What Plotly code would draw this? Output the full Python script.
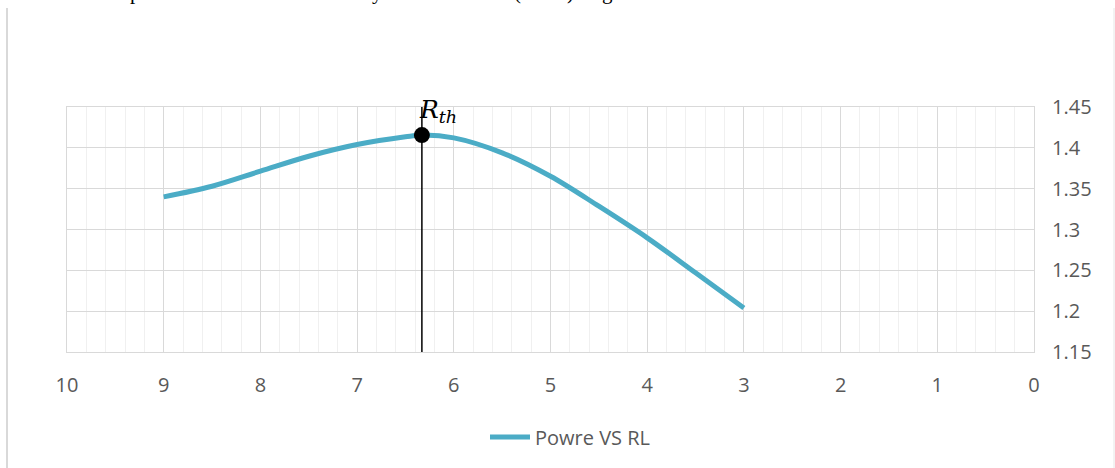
import plotly.graph_objects as go

# Data
rl = [9, 8.5, 8, 7.5, 7, 6.5, 6.33, 6, 5.5, 5, 4.5, 4, 3.5, 3]
power = [1.340, 1.353, 1.3714, 1.3897, 1.404, 1.4135, 1.4156, 1.4122,
         1.3939, 1.3652, 1.3285, 1.2898, 1.247, 1.2038]
rth_x = 6.33
rth_y = 1.4156
series_name = "Powre VS RL"
x_ticks = [10, 9, 8, 7, 6, 5, 4, 3, 2, 1, 0]
y_ticks = [1.15, 1.2, 1.25, 1.3, 1.35, 1.4, 1.45]

# cropped document text above the chart (only descenders visible)
doc_chars = ["p", "y", "(", ")", "g"]
doc_x_px = [135, 377, 517, 570, 607]

W, H = 1115, 468
L, R, T, B = 67, 81, 107, 116
pw = W - L - R
ph = H - T - B

fig = go.Figure()
fig.add_trace(go.Scatter(
    x=rl, y=power, mode="lines", name=series_name,
    line=dict(color="#4bacc6", width=5, shape="spline", smoothing=1.0),
))
fig.add_trace(go.Scatter(
    x=[rth_x, rth_x], y=[y_ticks[0], y_ticks[-1]], mode="lines",
    line=dict(color="black", width=1.5), showlegend=False, hoverinfo="skip",
))
fig.add_trace(go.Scatter(
    x=[rth_x], y=[rth_y], mode="markers",
    marker=dict(color="black", size=16), showlegend=False,
))

fig.add_annotation(
    x=rth_x, y=1.4445, xref="x", yref="y", xanchor="left", yanchor="middle",
    text="<i>R</i><sub><i>th</i></sub>", showarrow=False, xshift=-5,
    font=dict(family="DejaVu Serif", size=25, color="black"),
)

for ch, px in zip(doc_chars, doc_x_px):
    fig.add_annotation(
        x=(px - L) / pw, y=(ph + T + 8) / ph, xref="paper", yref="paper",
        xanchor="center", yanchor="middle", text=ch, showarrow=False,
        font=dict(family="Liberation Serif", size=21, color="black"),
    )

# document frame lines
fig.add_shape(type="line", xref="paper", yref="paper",
              x0=(7 - L) / pw, x1=(7 - L) / pw,
              y0=(ph + T - 8) / ph, y1=-(B + 5) / ph,
              line=dict(color="#d9d9d9", width=2))
fig.add_shape(type="line", xref="paper", yref="paper",
              x0=(1114 - L) / pw, x1=(1114 - L) / pw,
              y0=(ph + T - 8) / ph, y1=-(B + 5) / ph,
              line=dict(color="#e6e6e6", width=1))

fig.update_xaxes(
    range=[10, 0], tickvals=x_ticks, showgrid=True, gridcolor="#d9d9d9", gridwidth=1,
    minor=dict(dtick=0.2, showgrid=True, gridcolor="#f0f0f0", gridwidth=1),
    zeroline=False, showline=True, linecolor="#d9d9d9", linewidth=1, mirror=True,
    ticks="", ticklabelstandoff=15,
    tickfont=dict(family="Open Sans", size=20, color="#595959"),
)
fig.update_yaxes(
    range=[1.15, 1.45], tickvals=y_ticks, side="right",
    showgrid=True, gridcolor="#d9d9d9", gridwidth=1,
    zeroline=False, showline=True, linecolor="#d9d9d9", linewidth=1, mirror=True,
    ticks="", ticklabelstandoff=13,
    tickfont=dict(family="Open Sans", size=20, color="#595959"),
)

fig.update_layout(
    width=W, height=H,
    margin=dict(l=L, r=R, t=T, b=B),
    paper_bgcolor="white", plot_bgcolor="white",
    showlegend=True,
    legend=dict(orientation="h", x=(485 - L) / pw, xanchor="left",
                y=-(437 - T - ph) / ph, yanchor="middle",
                font=dict(family="Open Sans", size=20, color="#595959"),
                itemwidth=40),
)

fig.write_html("out.html", config={"displayModeBar": False},
               post_script="document.body.style.margin='0';document.body.style.padding='0';")
